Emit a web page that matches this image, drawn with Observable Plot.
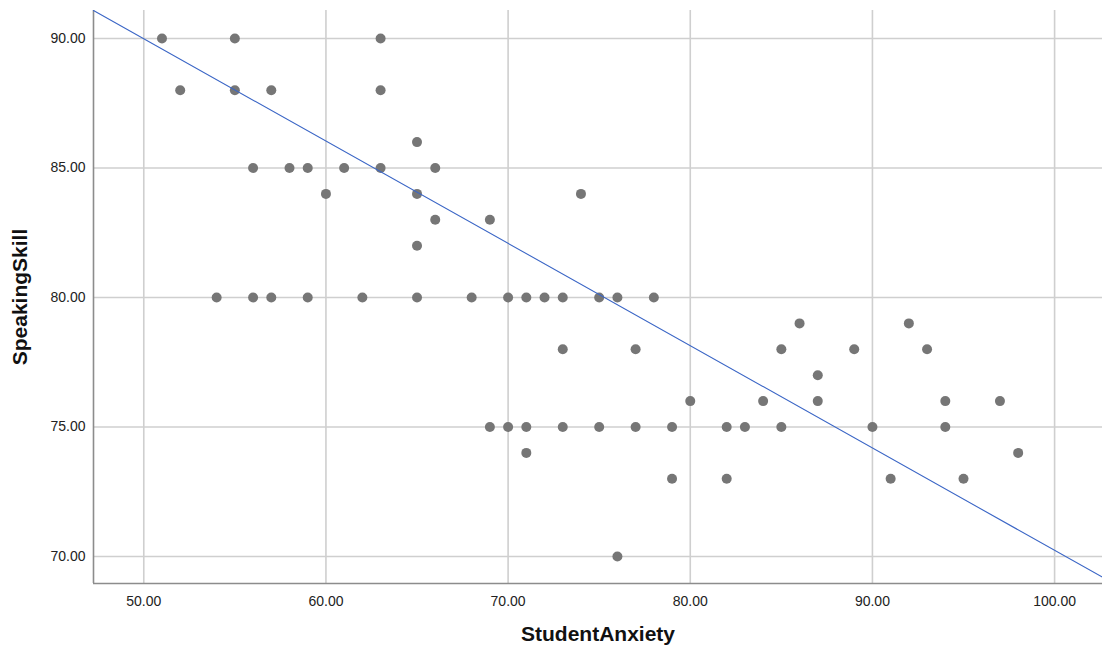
<!DOCTYPE html>
<html>
<head>
<meta charset="utf-8">
<script src="https://cdn.jsdelivr.net/npm/d3@7"></script>
<script src="https://cdn.jsdelivr.net/npm/@observablehq/plot@0.6"></script>
<style>
  html, body { margin: 0; padding: 0; background: #fff; }
  #chart svg { display: block; }
</style>
</head>
<body>
<div id="chart"></div>
<script>
const anxiety = [
  51, 55, 63,
  52, 55, 57, 63,
  65,
  56, 58, 59, 61, 63, 66,
  60, 65, 74,
  66, 69,
  65,
  54, 56, 57, 59, 62, 65, 68, 70, 71, 72, 73, 75, 76, 78,
  86, 92,
  73, 77, 85, 89, 93,
  87,
  80, 84, 87, 94, 97,
  69, 70, 71, 73, 75, 77, 79, 82, 83, 85, 90, 94,
  71, 98,
  79, 82, 91, 95,
  76
];
const speaking = [
  90, 90, 90,
  88, 88, 88, 88,
  86,
  85, 85, 85, 85, 85, 85,
  84, 84, 84,
  83, 83,
  82,
  80, 80, 80, 80, 80, 80, 80, 80, 80, 80, 80, 80, 80, 80,
  79, 79,
  78, 78, 78, 78, 78,
  77,
  76, 76, 76, 76, 76,
  75, 75, 75, 75, 75, 75, 75, 75, 75, 75, 75, 75,
  74, 74,
  73, 73, 73, 73,
  70
];

// Fit line (total) endpoints
const fitX = [47.24, 102.63];
const fitY = [91.08, 69.2];

// Axis settings
const xTicks = [50, 60, 70, 80, 90, 100];
const yTicks = [70, 75, 80, 85, 90];
const xDomain = [47.24, 102.63];
const yDomain = [68.957, 91.081];
const xLabel = "StudentAnxiety";
const yLabel = "SpeakingSkill";

const points = anxiety.map((a, i) => ({x: a, y: speaking[i]}));
const fit = fitX.map((x, i) => ({x, y: fitY[i]}));
const fmt = d3.format(".2f");

const chart = Plot.plot({
  width: 1102,
  height: 652,
  marginLeft: 93,
  marginRight: 0,
  marginTop: 10,
  marginBottom: 69,
  style: {fontFamily: "'Liberation Sans', Arial, sans-serif", background: "#fff", fontSize: "14px"},
  x: {domain: xDomain},
  y: {domain: yDomain},
  marks: [
    Plot.gridX(xTicks, {stroke: "#cfcfcf", strokeOpacity: 1, strokeWidth: 1.6}),
    Plot.gridY(yTicks, {stroke: "#cfcfcf", strokeOpacity: 1, strokeWidth: 1.6}),
    Plot.ruleX([xDomain[0]], {stroke: "#8c8c8c", strokeWidth: 1.6}),
    Plot.ruleY([yDomain[0]], {stroke: "#8c8c8c", strokeWidth: 1.6}),
    Plot.axisX(xTicks, {tickSize: 0, tickPadding: 13, tickFormat: fmt, fontSize: 14, fill: "#222", label: null}),
    Plot.axisY(yTicks, {tickSize: 0, tickPadding: 8, tickFormat: fmt, fontSize: 14, fill: "#222", label: null}),
    Plot.text([xLabel], {frameAnchor: "bottom", dy: 57, fontSize: 21, fontWeight: "bold", fill: "#111", textAnchor: "middle"}),
    Plot.text([yLabel], {frameAnchor: "left", dx: -73, rotate: -90, fontSize: 21, fontWeight: "bold", fill: "#111", textAnchor: "middle"}),
    Plot.dot(points, {x: "x", y: "y", r: 5, fill: "#767676", stroke: "none"}),
    Plot.line(fit, {x: "x", y: "y", stroke: "#3b66c6", strokeWidth: 1.1})
  ]
});
document.getElementById("chart").appendChild(chart);
</script>
</body>
</html>
